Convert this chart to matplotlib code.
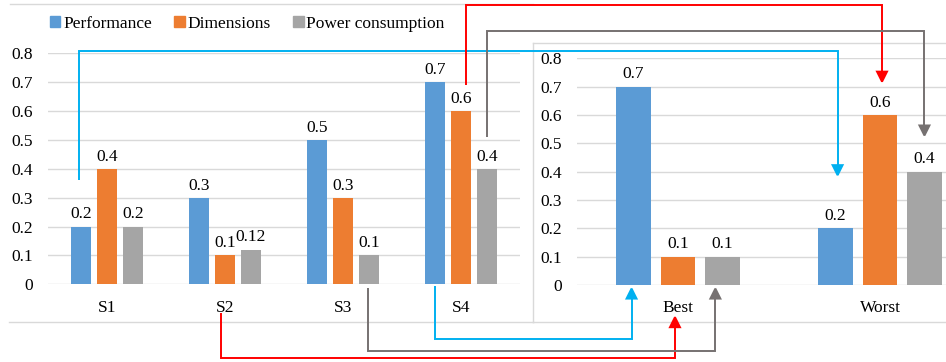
import matplotlib
matplotlib.use("Agg")
import matplotlib.pyplot as plt
from matplotlib.patches import FancyArrowPatch, Patch
from matplotlib.lines import Line2D
from matplotlib.path import Path
from matplotlib.ticker import FuncFormatter

# scenario scores
scenarios = ["S1", "S2", "S3", "S4"]
performance = [0.2, 0.3, 0.5, 0.7]
dimensions = [0.4, 0.1, 0.3, 0.6]
power = [0.2, 0.12, 0.1, 0.4]

# best / worst reference values
refs = ["Best", "Worst"]
performance_ref = [0.7, 0.2]
dimensions_ref = [0.1, 0.6]
power_ref = [0.1, 0.4]

series_names = ["Performance", "Dimensions", "Power consumption"]
colors = ["#5B9BD5", "#ED7D31", "#A5A5A5"]
grid_col = "#D9D9D9"

plt.rcParams["font.family"] = ["Liberation Serif", "DejaVu Serif"]
plt.rcParams["font.size"] = 12.5

W, H = 946, 362
fig = plt.figure(figsize=(W / 100, H / 100), dpi=100)


def px_box(x0, x1, y_top, y_bot):
    # pixel box (top-left origin) -> figure fraction rect
    return [x0 / W, 1 - y_bot / H, (x1 - x0) / W, (y_bot - y_top) / H]


def fy(py):
    return 1 - py / H


axL = fig.add_axes(px_box(48, 520, 53.3, 284.3))
axR = fig.add_axes(px_box(577, 981, 58.3, 285))

step, width = 0.22, 0.17


def bar_chart(ax, cats, values):
    for k, (vals, col) in enumerate(zip(values, colors)):
        xs = [i + (k - 1) * step for i in range(len(cats))]
        bars = ax.bar(xs, vals, width=width, color=col, zorder=2)
        for b, v in zip(bars, vals):
            ax.annotate(f"{v:g}", (b.get_x() + b.get_width() / 2, v),
                        xytext=(0, 3), textcoords="offset points",
                        ha="center", va="bottom")
    ax.set_xlim(-0.5, len(cats) - 0.5)
    ax.set_ylim(0, 0.8)
    ax.set_yticks([i / 10 for i in range(9)])
    ax.yaxis.set_major_formatter(FuncFormatter(lambda v, p: f"{v:.1f}" if v else "0"))
    ax.set_xticks(range(len(cats)))
    ax.set_xticklabels(cats)
    ax.tick_params(length=0)
    ax.tick_params(axis="x", pad=11)
    ax.tick_params(axis="y", pad=11)
    ax.grid(axis="y", color=grid_col, lw=1, zorder=0)
    ax.set_axisbelow(True)
    for s in ax.spines.values():
        s.set_visible(False)
    ax.patch.set_alpha(0)


bar_chart(axL, scenarios, [performance, dimensions, power])
bar_chart(axR, refs, [performance_ref, dimensions_ref, power_ref])

# chart area borders
for x0, x1, y in [(10, 533, 4), (9, 533, 322), (533, W, 43), (533, W, 322)]:
    fig.add_artist(Line2D([x0 / W, x1 / W], [fy(y), fy(y)], color=grid_col, lw=1,
                          transform=fig.transFigure, zorder=0))
fig.add_artist(Line2D([533 / W, 533 / W], [fy(43), fy(322)], color=grid_col, lw=1,
                      transform=fig.transFigure, zorder=0))

# legend
handles = [Patch(color=c, label=n) for c, n in zip(colors, series_names)]
fig.legend(handles=handles, loc="center left", bbox_to_anchor=(50 / W, fy(24)),
           ncol=3, frameon=False, handlelength=0.6, handleheight=0.6,
           handletextpad=0.15, columnspacing=1.3, borderpad=0, borderaxespad=0)


def to_fig(ax, x, y):
    return fig.transFigure.inverted().transform(ax.transData.transform((x, y)))


def connector(start, end, level_px, color):
    # elbow connector: vertical, horizontal at level_px, vertical into arrow head
    xs, ys = to_fig(*start)
    xe, ye = to_fig(*end)
    lvl = fy(level_px)
    verts = [(xs, ys), (xs, lvl), (xe, lvl), (xe, ye)]
    codes = [Path.MOVETO] + [Path.LINETO] * 3
    arr = FancyArrowPatch(path=Path(verts, codes), transform=fig.transFigure,
                          arrowstyle="-|>,head_length=0.72,head_width=0.36",
                          mutation_scale=10, color=color, lw=1.4,
                          joinstyle="miter", capstyle="butt", zorder=5)
    fig.add_artist(arr)


cyan, red, dgray = "#00B0F0", "#FF0000", "#767171"

# performance: S1 -> worst, S4 -> best
connector((axL, 0 - step - 0.02, 0.36), (axR, 1 - step + 0.01, 0.38), 51, cyan)
connector((axL, 3 - step, -0.007), (axR, 0 - step - 0.01, -0.005), 339, cyan)
# dimensions: S4 -> worst, S2 -> best
connector((axL, 3 + 0.04, 0.69), (axR, 1 + 0.01, 0.71), 5, red)
connector((axL, 1 - 0.03, -0.1), (axR, -0.015, -0.106), 358, red)
# power consumption: S4 -> worst, S3 -> best
connector((axL, 3 + step, 0.51), (axR, 1 + step, 0.52), 31, dgray)
connector((axL, 2 + step - 0.01, -0.012), (axR, step - 0.035, -0.005), 351, dgray)

fig.savefig("out.png", dpi=100)
